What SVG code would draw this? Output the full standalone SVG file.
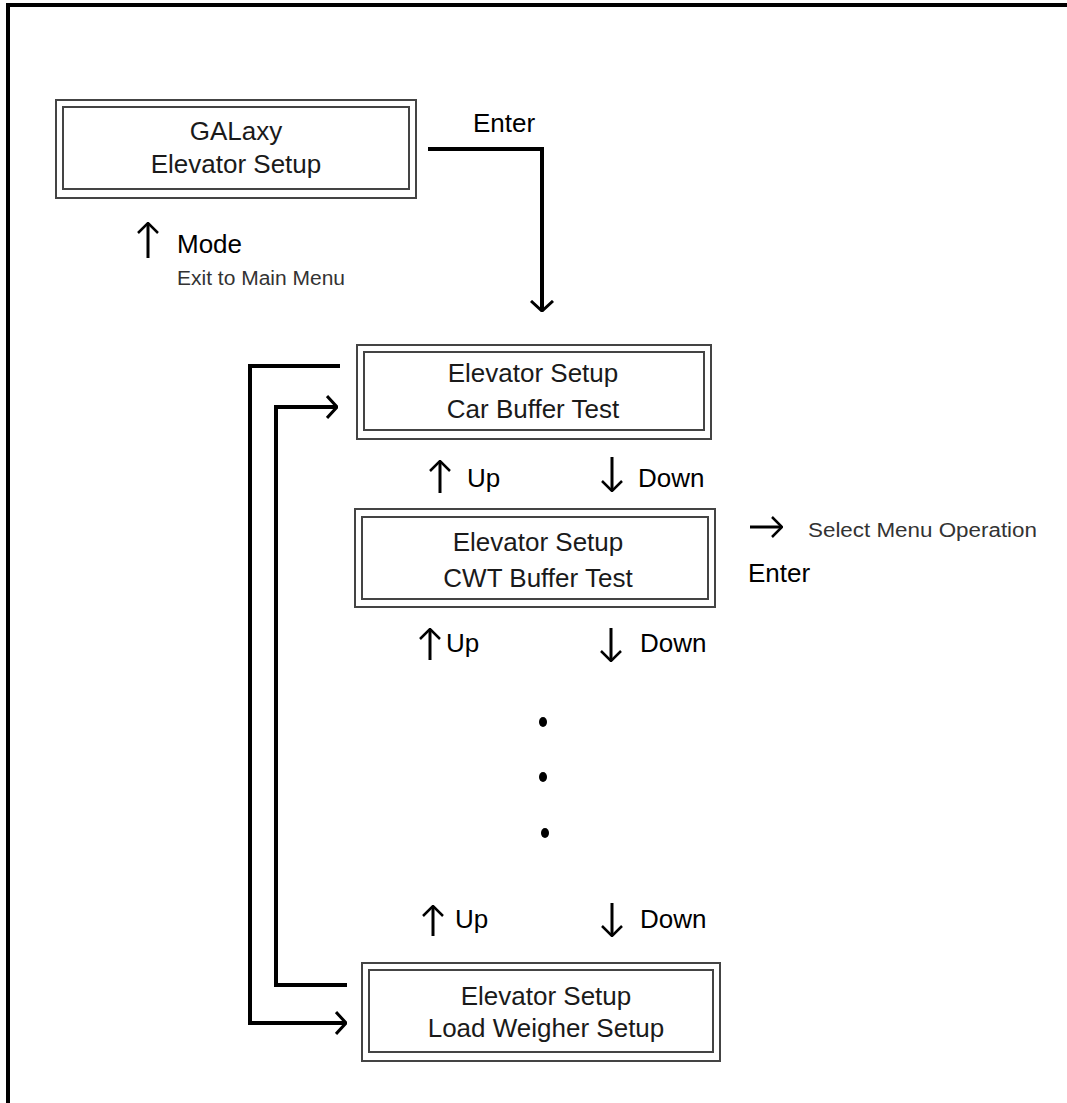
<svg xmlns="http://www.w3.org/2000/svg" width="1067" height="1103" viewBox="0 0 1067 1103">
<style>
.bo{fill:none;stroke:#444;stroke-width:2}
.bt{font-family:"Liberation Sans",Arial,sans-serif;font-size:26px;fill:#1a1a1a;text-anchor:middle}
.lb{font-family:"Liberation Sans",Arial,sans-serif;font-size:26px;fill:#000}
.sm{font-family:"Liberation Sans",Arial,sans-serif;font-size:20px;fill:#333}
.cn{fill:none;stroke:#000;stroke-width:4;stroke-linejoin:miter}
.ar{fill:none;stroke:#000;stroke-width:3;stroke-linecap:butt}
</style>
<defs>
<marker id="ah" viewBox="0 0 12 24" refX="11" refY="12" markerWidth="12" markerHeight="24" markerUnits="userSpaceOnUse" orient="auto">
<path d="M1 1 L11 12 L1 23" fill="none" stroke="#000" stroke-width="3"/>
</marker>
<marker id="sh" viewBox="0 0 12 22" refX="11" refY="11" markerWidth="12" markerHeight="22" markerUnits="userSpaceOnUse" orient="auto">
<path d="M1 1 L11 11 L1 21" fill="none" stroke="#000" stroke-width="2.5"/>
</marker>
</defs>
<rect width="1067" height="1103" fill="#fff"/>
<path d="M8 1103 V5 H1067" fill="none" stroke="#000" stroke-width="4"/>

<g id="node-galaxy">
<rect class="bo" x="56" y="100" width="360" height="98"/>
<rect class="bo" x="63" y="107" width="346" height="82"/>
<text class="bt" x="236" y="140">GALaxy</text>
<text class="bt" x="236" y="173">Elevator Setup</text>
</g>

<g id="node-car-buffer">
<rect class="bo" x="357" y="345" width="354" height="94"/>
<rect class="bo" x="364" y="352" width="340" height="78"/>
<text class="bt" x="533" y="382">Elevator Setup</text>
<text class="bt" x="533" y="418">Car Buffer Test</text>
</g>

<g id="node-cwt-buffer">
<rect class="bo" x="355" y="509" width="360" height="98"/>
<rect class="bo" x="362" y="517" width="346" height="82"/>
<text class="bt" x="538" y="551">Elevator Setup</text>
<text class="bt" x="538" y="587">CWT Buffer Test</text>
</g>

<g id="node-load-weigher">
<rect class="bo" x="362" y="963" width="358" height="98"/>
<rect class="bo" x="369" y="970" width="344" height="82"/>
<text class="bt" x="546" y="1005">Elevator Setup</text>
<text class="bt" x="546" y="1037">Load Weigher Setup</text>
</g>

<g id="connectors">
<path class="cn" d="M428 149 H542 V311" marker-end="url(#ah)"/>
<path class="cn" d="M340 366 H250 V1023 H346" marker-end="url(#ah)"/>
<path class="cn" d="M347 985 H276 V407 H337" marker-end="url(#ah)"/>
</g>

<g id="labels">
<text class="lb" x="473" y="132">Enter</text>
<line class="ar" x1="148" y1="258" x2="148" y2="223" marker-end="url(#sh)"/>
<text class="lb" x="177" y="253">Mode</text>
<text class="sm" x="177" y="285" textLength="168" lengthAdjust="spacingAndGlyphs">Exit to Main Menu</text>

<line class="ar" x1="440" y1="493" x2="440" y2="461" marker-end="url(#sh)"/>
<text class="lb" x="467" y="487">Up</text>
<line class="ar" x1="612" y1="457" x2="612" y2="491" marker-end="url(#sh)"/>
<text class="lb" x="638" y="487">Down</text>

<line class="ar" x1="750" y1="527" x2="782" y2="527" marker-end="url(#sh)"/>
<text class="sm" x="808" y="537" textLength="229" lengthAdjust="spacingAndGlyphs">Select Menu Operation</text>
<text class="lb" x="748" y="582">Enter</text>

<line class="ar" x1="430" y1="660" x2="430" y2="629" marker-end="url(#sh)"/>
<text class="lb" x="446" y="652">Up</text>
<line class="ar" x1="611" y1="628" x2="611" y2="661" marker-end="url(#sh)"/>
<text class="lb" x="640" y="652">Down</text>

<ellipse cx="543" cy="722" rx="4" ry="5" fill="#000"/>
<ellipse cx="543" cy="777" rx="4" ry="5" fill="#000"/>
<ellipse cx="545" cy="833" rx="4" ry="5" fill="#000"/>

<line class="ar" x1="433" y1="936" x2="433" y2="906" marker-end="url(#sh)"/>
<text class="lb" x="455" y="928">Up</text>
<line class="ar" x1="612" y1="903" x2="612" y2="936" marker-end="url(#sh)"/>
<text class="lb" x="640" y="928">Down</text>
</g>
</svg>
